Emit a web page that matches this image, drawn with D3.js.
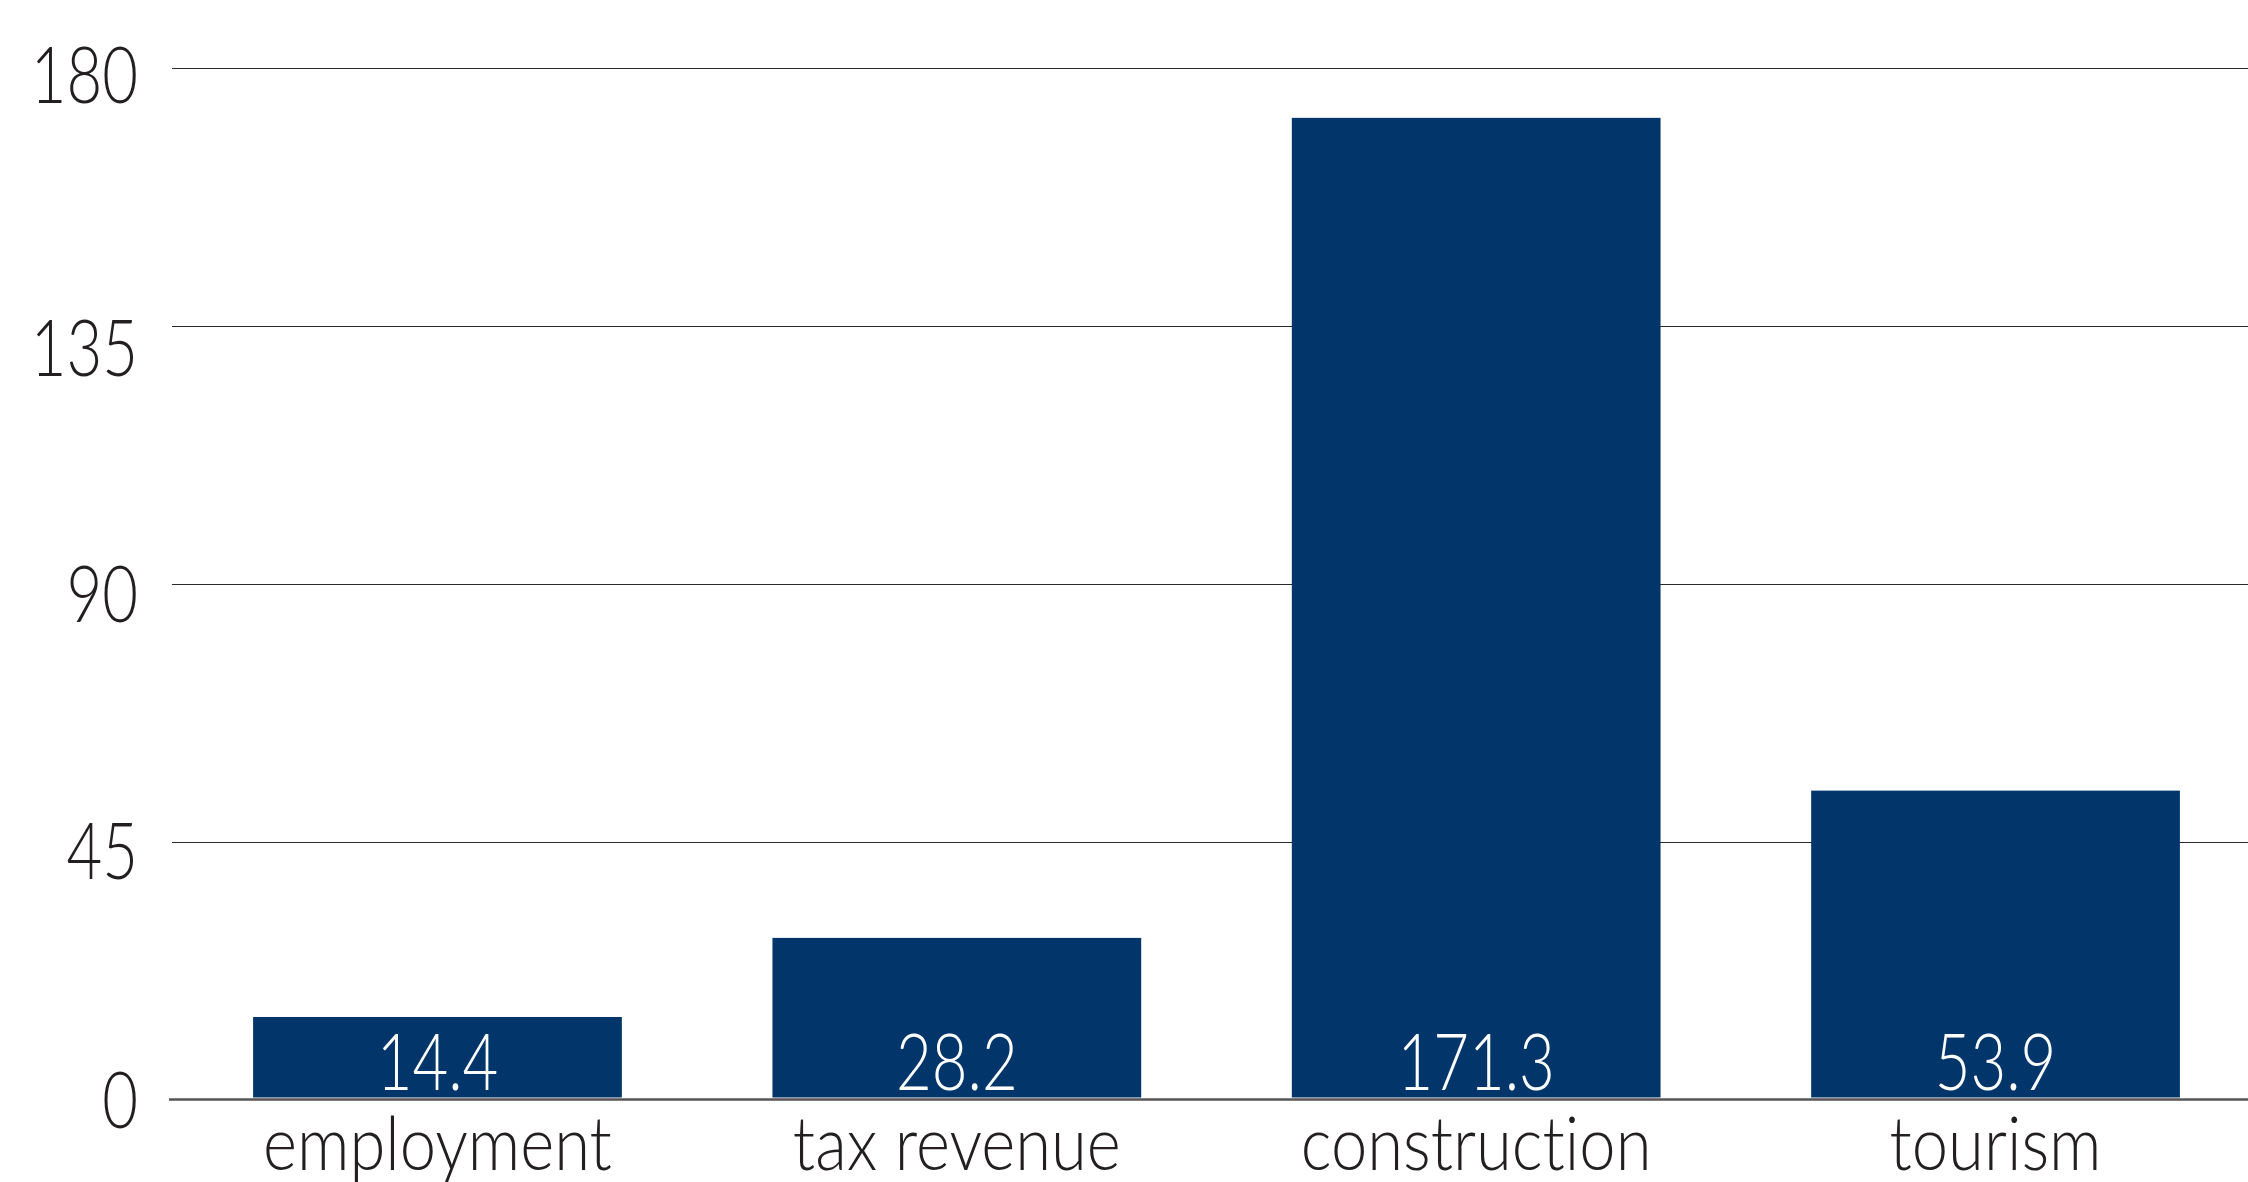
<!DOCTYPE html>
<html>
<head>
<meta charset="utf-8">
<script src="https://cdn.jsdelivr.net/npm/d3@7"></script>
<style>
  html, body { margin: 0; padding: 0; background: #fff; }
  svg { display: block; }
  text {
    font-family: "Lato", "Open Sans", sans-serif;
    font-weight: 300;
    font-variant-ligatures: none;
  }
</style>
</head>
<body>
<svg id="chart"></svg>
<script>
const categories = ["employment", "tax revenue", "construction", "tourism"];
const values = [14.4, 28.2, 171.3, 53.9];
const yTicks = [0, 45, 90, 135, 180];

const W = 2248, H = 1182;
// the original face is a narrow geometric one, so glyphs get squeezed a bit
const numSqueeze = 0.78, numSize = 79;
const catSqueeze = 0.88, catSize = 74;
// the tick labels in the original sit a little unevenly under their lines
const tickDrop = { 0: 28, 45: 37, 90: 38, 135: 50, 180: 35 };

const svg = d3.select("#chart").attr("width", W).attr("height", H);

const y = d3.scaleLinear().domain([0, 180]).range([1099.5, 68]);
const x = d3.scaleBand()
  .domain(categories)
  .range([170, 2263])
  .paddingInner(0.29)
  .paddingOuter(0.16);

// grid lines
svg.append("g")
  .selectAll("line")
  .data(yTicks.filter(d => d !== 0))
  .join("line")
  .attr("x1", 172)
  .attr("x2", W)
  .attr("y1", d => Math.round(y(d)) + 0.5)
  .attr("y2", d => Math.round(y(d)) + 0.5)
  .attr("stroke", "#2a2a2a")
  .attr("stroke-width", 1.2);

// y labels
svg.append("g")
  .selectAll("text")
  .data(yTicks)
  .join("text")
  .attr("transform", d => `translate(138,${y(d) + tickDrop[d]}) scale(${numSqueeze},1)`)
  .attr("text-anchor", "end")
  .attr("font-size", numSize)
  .attr("fill", "#231f20")
  .text(d => d);

// bars
svg.append("g")
  .selectAll("rect")
  .data(values)
  .join("rect")
  .attr("x", (d, i) => x(categories[i]))
  .attr("y", d => y(d))
  .attr("width", x.bandwidth())
  .attr("height", d => y(0) - 2 - y(d))
  .attr("fill", "#02366a");

// value labels inside bars
svg.append("g")
  .selectAll("text")
  .data(values)
  .join("text")
  .attr("transform", (d, i) =>
    `translate(${x(categories[i]) + x.bandwidth() / 2},${y(0) - 10}) scale(${numSqueeze},1)`)
  .attr("text-anchor", "middle")
  .attr("font-size", numSize)
  .attr("fill", "#fff")
  .text(d => d.toFixed(1));

// baseline
svg.append("line")
  .attr("x1", 169)
  .attr("x2", W)
  .attr("y1", y(0))
  .attr("y2", y(0))
  .attr("stroke", "#555")
  .attr("stroke-width", 2.5);

// category labels
svg.append("g")
  .selectAll("text")
  .data(categories)
  .join("text")
  .attr("transform", d => `translate(${x(d) + x.bandwidth() / 2},1170) scale(${catSqueeze},1)`)
  .attr("text-anchor", "middle")
  .attr("font-size", catSize)
  .attr("fill", "#231f20")
  .text(d => d);
</script>
</body>
</html>
